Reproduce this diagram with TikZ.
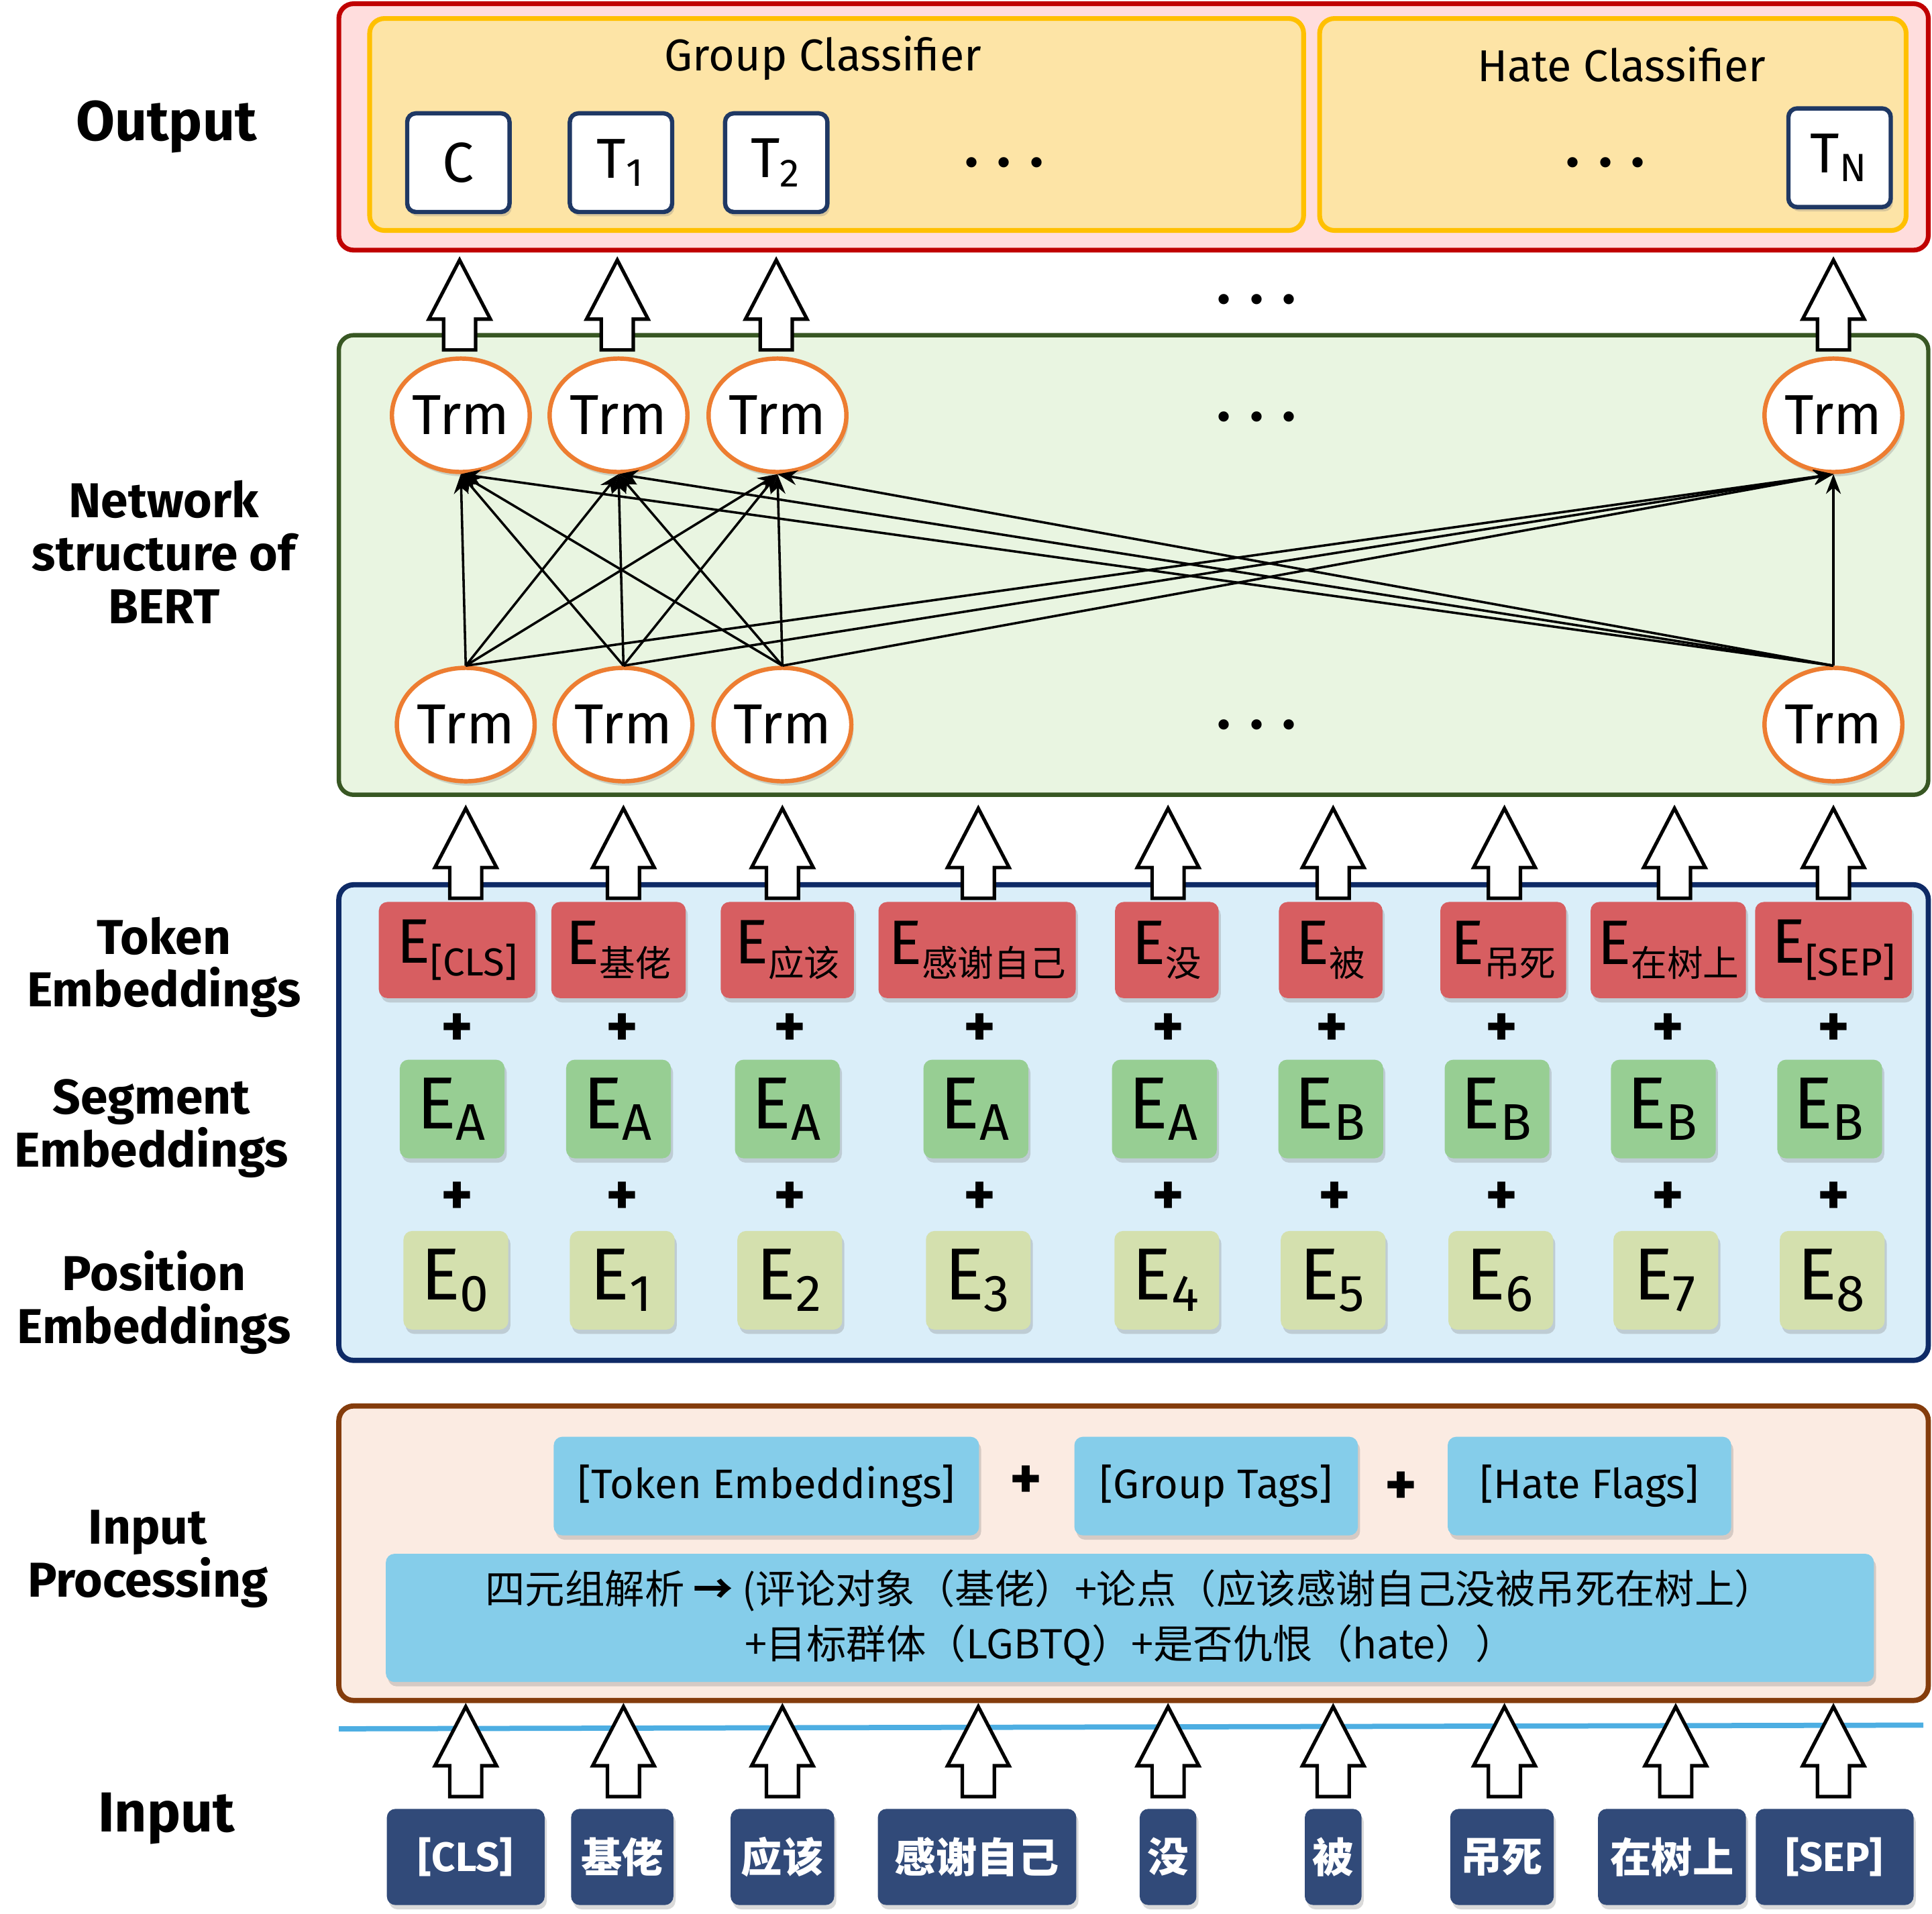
\documentclass[tikz,border=0pt]{standalone}
\usepackage{fontspec}
\setmainfont{Fira Sans}
\newfontfamily\cjk{Noto Sans CJK SC}
\usepackage{tikz}
\usetikzlibrary{shapes.geometric, arrows.meta, shadows}
\usepackage{xcolor}

\definecolor{outred}{HTML}{C00000}
\definecolor{outfill}{HTML}{FFDDDD}
\definecolor{clsgold}{HTML}{FFC000}
\definecolor{clsfill}{HTML}{FDE4A6}
\definecolor{boxnavy}{HTML}{1F3864}
\definecolor{netgreen}{HTML}{385723}
\definecolor{netfill}{HTML}{E9F5E1}
\definecolor{trmorange}{HTML}{ED7D31}
\definecolor{embnavy}{HTML}{0E2A66}
\definecolor{embfill}{HTML}{DAEEF9}
\definecolor{tokred}{HTML}{D75E61}
\definecolor{seggreen}{HTML}{97CE93}
\definecolor{posgreen}{HTML}{D4E0AE}
\definecolor{procbrown}{HTML}{843C0C}
\definecolor{procfill}{HTML}{FBEBE2}
\definecolor{tagblue}{HTML}{85CDEA}
\definecolor{lineblue}{HTML}{4DAEE2}
\definecolor{innavy}{HTML}{314A79}

\newcommand{\fsz}[2]{\fontsize{#1}{#2}\selectfont}
\newcommand{\threedots}{.\hspace{0.155cm}.\hspace{0.155cm}.}
% lowered index for token embeddings
\newcommand{\tokidx}[1]{\raisebox{-0.1cm}{\fsz{9pt}{9pt}#1}}
\newcommand{\cjkidx}[1]{\raisebox{-0.1cm}{\fsz{8.3pt}{9pt}\cjk #1}}

\begin{document}
\begin{tikzpicture}[
    x=0.01cm, y=-0.01cm,
    every node/.style={align=center, inner sep=0pt},
    layer/.style={rounded corners=0.12cm, line width=1pt},
    layername/.style={font=\fsz{11.3pt}{12.2pt}\bfseries},
    clstitle/.style={font=\fsz{10.3pt}{12pt}},
    soft/.style={drop shadow={shadow xshift=0.5pt, shadow yshift=-1pt, opacity=0.3}},
    outbox/.style={draw=boxnavy, fill=white, line width=1pt, rounded corners=0.07cm, minimum width=0.83cm, minimum height=0.8cm, font=\fsz{13pt}{14pt}, soft},
    trm/.style={ellipse, draw=trmorange, fill=white, line width=1pt, minimum width=1.1cm, minimum height=0.92cm, font=\fsz{13pt}{14pt}, soft},
    link/.style={-{Stealth[length=0.16cm, width=0.12cm]}, line width=0.55pt},
    moredots/.style={font=\fsz{13pt}{13pt}\bfseries},
    plussign/.style={font=\fsz{14pt}{14pt}\bfseries},
    tokemb/.style={fill=tokred, rounded corners=0.07cm, minimum height=0.78cm, font=\fsz{14.5pt}{15pt}, soft},
    segemb/.style={fill=seggreen, rounded corners=0.07cm, minimum width=0.85cm, minimum height=0.8cm, font=\fsz{17pt}{18pt}, soft},
    posemb/.style={fill=posgreen, rounded corners=0.07cm, minimum width=0.85cm, minimum height=0.8cm, font=\fsz{17pt}{18pt}, soft},
    tagbox/.style={fill=tagblue, rounded corners=0.07cm, minimum height=0.8cm, font=\fsz{9.5pt}{11pt}, soft},
    intok/.style={fill=innavy, text=white, rounded corners=0.07cm, minimum height=0.78cm, font=\fsz{9.5pt}{11pt}\bfseries, soft},
    blockup/.pic={\draw[fill=white, line width=0.8pt] (-13,0) -- (-13,-25) -- (-25,-25) -- (0,-73) -- (25,-25) -- (13,-25) -- (13,0) -- cycle;}
]
\useasboundingbox (0,0) rectangle (1568,1553);

% Layer names
\node[layername, font=\fsz{13pt}{13pt}\bfseries] (nout) at (135,103) {Output};
\node[layername] (nnet) at (133,448) {Network\\structure of\\BERT};
\node[layername] (ntok) at (133,785) {Token\\Embeddings};
\node[layername] (nseg) at (123,916) {Segment\\Embeddings};
\node[layername] (npos) at (125,1057) {Position\\Embeddings};
\node[layername] (nproc) at (120,1265) {Input\\Processing};
\node[layername, font=\fsz{13pt}{13pt}\bfseries] (nin) at (135,1476) {Input};

% Output
\draw[layer, draw=outred, fill=outfill, line width=1.1pt] (275,3) rectangle (1565,203);
\draw[layer, draw=clsgold, fill=clsfill, line width=1.1pt] (300,15) rectangle (1058,187);
\draw[layer, draw=clsgold, fill=clsfill, line width=1.1pt] (1071,15) rectangle (1547,187);
\node[clstitle] (grouptitle) at (668,47) {Group Classifier};
\node[clstitle] (hatetitle) at (1316,52) {Hate Classifier};
\node[outbox] (oc) at (372,132) {C};
\node[outbox] (o1) at (504,132) {T\textsubscript{1}};
\node[outbox] (o2) at (630,132) {T\textsubscript{2}};
\node[outbox] (on) at (1493,128) {T\textsubscript{N}};
\node[moredots] (gdots) at (815,132) {\threedots};
\node[moredots] (hdots) at (1303,132) {\threedots};

% BERT
\draw[layer, draw=netgreen, fill=netfill] (275,272) rectangle (1565,645);
\node[trm] (t1) at (374,337) {Trm};
\node[trm] (t2) at (502,337) {Trm};
\node[trm] (t3) at (631,337) {Trm};
\node[trm] (tn) at (1488,337) {Trm};
\node[trm] (b1) at (378,588) {Trm};
\node[trm] (b2) at (506,588) {Trm};
\node[trm] (b3) at (635,588) {Trm};
\node[trm] (bn) at (1488,588) {Trm};
\node[moredots] (odots) at (1020,243) {\threedots};
\node[moredots] (tdots) at (1020,338) {\threedots};
\node[moredots] (bdots) at (1020,588) {\threedots};

\draw[link] (b1.north) -- (t1.south);
\draw[link] (b1.north) -- (t2.south);
\draw[link] (b1.north) -- (t3.south);
\draw[link] (b1.north) -- (tn.south);
\draw[link] (b2.north) -- (t1.south);
\draw[link] (b2.north) -- (t2.south);
\draw[link] (b2.north) -- (t3.south);
\draw[link] (b2.north) -- (tn.south);
\draw[link] (b3.north) -- (t1.south);
\draw[link] (b3.north) -- (t2.south);
\draw[link] (b3.north) -- (t3.south);
\draw[link] (b3.north) -- (tn.south);
\draw[link] (bn.north) -- (t1.south);
\draw[link] (bn.north) -- (t2.south);
\draw[link] (bn.north) -- (t3.south);
\draw[link] (bn.north) -- (tn.south);

% Embeddings
\draw[layer, draw=embnavy, fill=embfill, line width=1.2pt] (275,718) rectangle (1565,1104);
\node[tokemb, minimum width=1.27cm] (ecls) at (371,771) {E\tokidx{[CLS]}};
\node[tokemb, minimum width=1.09cm] (ejl) at (502,771) {E\cjkidx{基佬}};
\node[tokemb, minimum width=1.08cm] (eyg) at (639,771) {E\cjkidx{应该}};
\node[tokemb, minimum width=1.60cm] (egx) at (793,771) {E\cjkidx{感谢自己}};
\node[tokemb, minimum width=0.84cm] (emei) at (947,771) {E\cjkidx{没}};
\node[tokemb, minimum width=0.84cm] (ebei) at (1080,771) {E\cjkidx{被}};
\node[tokemb, minimum width=1.02cm] (eds) at (1220,771) {E\cjkidx{吊死}};
\node[tokemb, minimum width=1.26cm] (ezs) at (1354,771) {E\cjkidx{在树上}};
\node[tokemb, minimum width=1.27cm] (esep) at (1488,771) {E\tokidx{[SEP]}};

\node[plussign] at (371,836) {+};  \node[plussign] at (505,836) {+};
\node[plussign] at (641,836) {+};  \node[plussign] at (795,836) {+};
\node[plussign] at (948,836) {+};  \node[plussign] at (1081,836) {+};
\node[plussign] at (1219,836) {+}; \node[plussign] at (1354,836) {+};
\node[plussign] at (1488,836) {+};

\node[segemb] (sa0) at (367,900) {E\textsubscript{A}};
\node[segemb] (sa1) at (502,900) {E\textsubscript{A}};
\node[segemb] (sa2) at (639,900) {E\textsubscript{A}};
\node[segemb] (sa3) at (792,900) {E\textsubscript{A}};
\node[segemb] (sa4) at (945,900) {E\textsubscript{A}};
\node[segemb] (sb5) at (1080,900) {E\textsubscript{B}};
\node[segemb] (sb6) at (1215,900) {E\textsubscript{B}};
\node[segemb] (sb7) at (1350,900) {E\textsubscript{B}};
\node[segemb] (sb8) at (1485,900) {E\textsubscript{B}};

\node[plussign] at (371,973) {+};  \node[plussign] at (505,973) {+};
\node[plussign] at (641,973) {+};  \node[plussign] at (795,973) {+};
\node[plussign] at (948,973) {+};  \node[plussign] at (1083,973) {+};
\node[plussign] at (1219,973) {+}; \node[plussign] at (1354,973) {+};
\node[plussign] at (1488,973) {+};

\node[posemb] (p0) at (370,1039) {E\textsubscript{0}};
\node[posemb] (p1) at (505,1039) {E\textsubscript{1}};
\node[posemb] (p2) at (641,1039) {E\textsubscript{2}};
\node[posemb] (p3) at (794,1039) {E\textsubscript{3}};
\node[posemb] (p4) at (947,1039) {E\textsubscript{4}};
\node[posemb] (p5) at (1082,1039) {E\textsubscript{5}};
\node[posemb] (p6) at (1218,1039) {E\textsubscript{6}};
\node[posemb] (p7) at (1352,1039) {E\textsubscript{7}};
\node[posemb] (p8) at (1487,1039) {E\textsubscript{8}};

% Input processing
\draw[layer, draw=procbrown, fill=procfill, line width=1.2pt] (275,1141) rectangle (1565,1380);
\node[tagbox, minimum width=3.45cm] (tagtok) at (622,1206) {[Token Embeddings]};
\node[tagbox, minimum width=2.30cm] (taggrp) at (987,1206) {[Group Tags]};
\node[tagbox, minimum width=2.30cm] (taghate) at (1290,1206) {[Hate Flags]};
\node[plussign] at (833,1203) {+};
\node[plussign] at (1137,1208) {+};
\node[tagbox, minimum width=12.07cm, minimum height=1.04cm, font=\fsz{9.2pt}{12.8pt}\cjk] (quad) at (917,1313)
    {四元组解析 \textbf{→} (评论对象（基佬）+论点（应该感谢自己没被吊死在树上）\\+目标群体（LGBTQ）+是否仇恨（hate））};

\draw[lineblue, line width=1.2pt] (275,1403) -- (1561,1400);

% Input tokens
\node[intok, minimum width=1.28cm] (icls) at (378,1507) {[CLS]};
\node[intok, minimum width=0.83cm] (ijl) at (505,1507) {\cjk 基佬};
\node[intok, minimum width=0.84cm] (iyg) at (635,1507) {\cjk 应该};
\node[intok, minimum width=1.61cm] (igx) at (793,1507) {\cjk 感谢自己};
\node[intok, minimum width=0.46cm] (imei) at (948,1507) {\cjk 没};
\node[intok, minimum width=0.46cm] (ibei) at (1082,1507) {\cjk 被};
\node[intok, minimum width=0.84cm] (ids) at (1219,1507) {\cjk 吊死};
\node[intok, minimum width=1.20cm] (izs) at (1357,1507) {\cjk 在树上};
\node[intok, minimum width=1.28cm] (isep) at (1489,1507) {[SEP]};

% Block arrows
\pic at (373,284) {blockup}; \pic at (501,284) {blockup};
\pic at (630,284) {blockup}; \pic at (1488,284) {blockup};

\pic at (378,729) {blockup};  \pic at (506,729) {blockup};
\pic at (635,729) {blockup};  \pic at (794,729) {blockup};
\pic at (948,729) {blockup};  \pic at (1082,729) {blockup};
\pic at (1221,729) {blockup}; \pic at (1359,729) {blockup};
\pic at (1488,729) {blockup};

\pic at (378,1458) {blockup};  \pic at (506,1458) {blockup};
\pic at (635,1458) {blockup};  \pic at (794,1458) {blockup};
\pic at (948,1458) {blockup};  \pic at (1082,1458) {blockup};
\pic at (1221,1458) {blockup}; \pic at (1360,1458) {blockup};
\pic at (1488,1458) {blockup};

\end{tikzpicture}
\end{document}
